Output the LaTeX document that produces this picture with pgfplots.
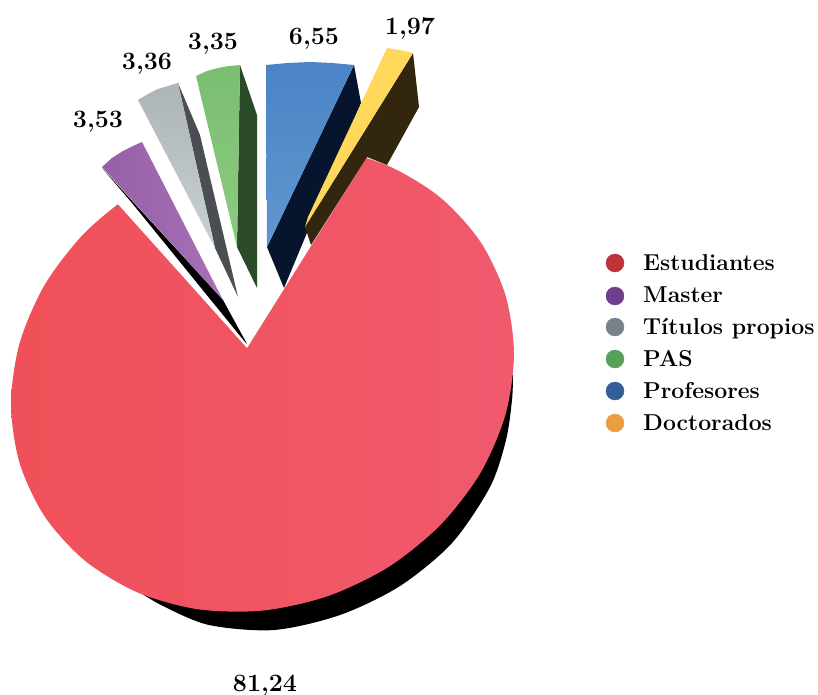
\documentclass[border=0pt]{standalone}
\usepackage{pgfplots}
\pgfplotsset{compat=1.18}
\definecolor{lEst}{HTML}{BD3339}
\definecolor{lMas}{HTML}{6E3F8A}
\definecolor{lTit}{HTML}{7A8087}
\definecolor{lPas}{HTML}{57A05A}
\definecolor{lPro}{HTML}{355E96}
\definecolor{lDoc}{HTML}{EC9D42}
\newcommand{\lab}[1]{\fontsize{23}{27}\selectfont\bfseries #1}
\newcommand{\val}[1]{\fontsize{25}{29}\selectfont\bfseries #1}
\begin{document}
\begin{tikzpicture}
\path[use as bounding box] (0,0) rectangle (818pt,695pt);
\begin{axis}[at={(0,0)},anchor=south west,width=818pt,height=695pt,scale only axis,hide axis,xmin=0,xmax=818,ymin=0,ymax=695,y dir=reverse,clip=false]
% body under the main slice
\addplot[smooth,fill=black,draw=none] coordinates {(513,375)(512,400)(506,440)(490,487)(452,543)(400,586)(340,615)(274,630)(209,625)(163,606)(136,590)} -- cycle;
% main slice (the open wedge is laid over it)
\addplot[smooth,left color={rgb,255:red,240;green,80;blue,88},right color={rgb,255:red,240;green,90;blue,110},draw=none] coordinates {(262.5,147.4)(327.6,148.8)(388.3,165.9)(440.3,197.5)(480.3,241.6)(505.4,295)(514,354)(505.4,414.8)(480.3,473.2)(440.3,525.1)(388.3,567.1)(327.6,596.2)(262.5,610.6)(197.4,609.2)(136.8,592.1)(84.7,560.5)(44.7,516.5)(19.6,463)(11,404)(19.6,343.2)(44.7,284.9)(84.7,232.9)(136.8,190.9)(197.4,161.8)(262.5,147.4)} -- cycle;
\addplot[fill=white,draw=none] coordinates {(247,348)(368,155)(368,90)(117,90)(117,203)} -- cycle;
% sides of the separated slices
\addplot[fill=black,draw=none] coordinates {(102,168)(132,203)(245,342)(247,344)(223,300)} -- cycle;
\addplot[fill={rgb,255:red,74;green,78;blue,82},draw=none] coordinates {(178,83)(200,135)(238,297)(215,248)} -- cycle;
\addplot[fill={rgb,255:red,42;green,74;blue,40},draw=none] coordinates {(240,65)(257,115)(257,288)(237,247)} -- cycle;
\addplot[fill={rgb,255:red,7;green,20;blue,46},draw=none] coordinates {(354,65)(361,103)(284,288)(267,247)} -- cycle;
\addplot[fill={rgb,255:red,51;green,38;blue,14},draw=none] coordinates {(413,53)(419,107)(387,165)(367,157)(311,245)(305,227)} -- cycle;
% top faces
\addplot[left color={rgb,255:red,150;green,96;blue,166},right color={rgb,255:red,168;green,112;blue,182},draw=none] coordinates {(102,167)(112,158)(123,151)(133,146)(142,142)(223,300)} -- cycle;
\addplot[top color={rgb,255:red,172;green,180;blue,184},bottom color={rgb,255:red,200;green,209;blue,210},draw=none] coordinates {(138,100)(148,94)(158,89)(168,86)(178,83)(215,248)} -- cycle;
\addplot[top color={rgb,255:red,122;green,190;blue,114},bottom color={rgb,255:red,140;green,203;blue,128},draw=none] coordinates {(196,76)(207,71)(218,68)(229,66)(240,65)(237,247)} -- cycle;
\addplot[top color={rgb,255:red,74;green,132;blue,198},bottom color={rgb,255:red,96;green,151;blue,207},draw=none] coordinates {(266,65)(288,63)(310,62)(332,63)(354,65)(267,247)} -- cycle;
\addplot[fill={rgb,255:red,255;green,215;blue,90},draw=none] coordinates {(387,48)(400,50)(413,53)(305,227)(308,217)} -- cycle;
% value labels
\node[anchor=base] at (axis cs:98,128) {\val{3,53}};
\node[anchor=base] at (axis cs:147,70) {\val{3,36}};
\node[anchor=base] at (axis cs:213,50) {\val{3,35}};
\node[anchor=base] at (axis cs:314,45) {\val{6,55}};
\node[anchor=base] at (axis cs:410,35) {\val{1,97}};
\node[anchor=base] at (axis cs:265,691) {\val{81,24}};
% legend
\addplot[only marks,mark=*,mark size=9pt,color=lEst] coordinates {(615,263)};
\addplot[only marks,mark=*,mark size=9pt,color=lMas] coordinates {(615,296)};
\addplot[only marks,mark=*,mark size=9pt,color=lTit] coordinates {(615,327)};
\addplot[only marks,mark=*,mark size=9pt,color=lPas] coordinates {(615,359)};
\addplot[only marks,mark=*,mark size=9pt,color=lPro] coordinates {(615,391)};
\addplot[only marks,mark=*,mark size=9pt,color=lDoc] coordinates {(615,423)};
\node[anchor=base west,inner sep=0pt] at (axis cs:643,270) {\lab{Estudiantes}};
\node[anchor=base west,inner sep=0pt] at (axis cs:643,302) {\lab{Master}};
\node[anchor=base west,inner sep=0pt] at (axis cs:643,334) {\lab{Títulos propios}};
\node[anchor=base west,inner sep=0pt] at (axis cs:643,366) {\lab{PAS}};
\node[anchor=base west,inner sep=0pt] at (axis cs:643,398) {\lab{Profesores}};
\node[anchor=base west,inner sep=0pt] at (axis cs:643,430) {\lab{Doctorados}};
\end{axis}
\end{tikzpicture}
\end{document}
